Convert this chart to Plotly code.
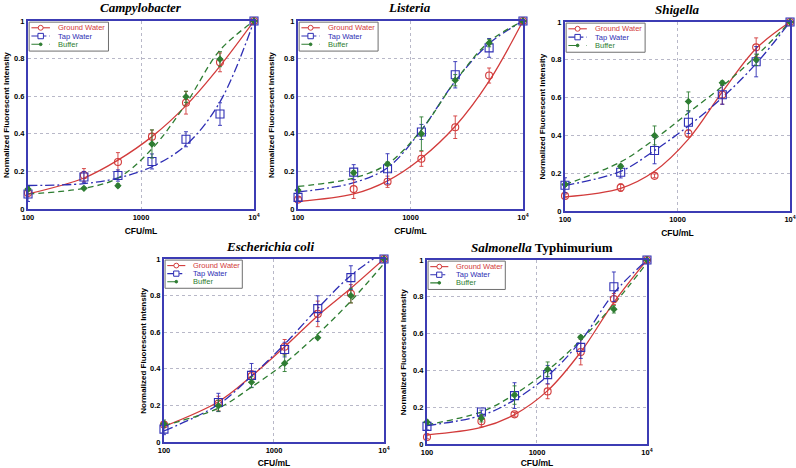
import plotly.graph_objects as go

# ---------------- data ----------------
cfu = [100, 312.5, 625, 1250, 2500, 5000, 10000]
x_tickvals = [100, 1000, 10000]
x_ticktext = ["100", "1000", "10<sup>4</sup>"]
y_tickvals = [0, 0.2, 0.4, 0.6, 0.8, 1]
y_ticktext = ["0", "0.2", "0.4", "0.6", "0.8", "1"]
series_names = ["Ground Water", "Tap Water", "Buffer"]
panel_titles = ["<i>Campylobacter</i>", "<i>Listeria</i>", "<i>Shigella</i>",
                "<i>Escherichia coli</i>", "<i>Salmonella</i> Typhimurium"]
y_title = "Normalized Fluorescent Intensity"
x_title = "CFU/mL"

# Campylobacter
campy_ground = [0.085, 0.18, 0.25, 0.385, 0.565, 0.78, 1.0]
campy_ground_err = [0.01, 0.035, 0.05, 0.035, 0.06, 0.05, 0]
campy_ground_fit = [0.08, 0.165, 0.26, 0.385, 0.55, 0.76, 1.0]
campy_tap = [0.08, 0.17, 0.178, 0.253, 0.371, 0.505, 1.0]
campy_tap_err = [0.04, 0.03, 0.03, 0.04, 0.04, 0.06, 0]
campy_tap_fit = [0.125, 0.135, 0.165, 0.225, 0.34, 0.57, 1.0]
campy_buffer = [0.106, 0.11, 0.124, 0.346, 0.597, 0.797, 1.0]
campy_buffer_err = [0.01, 0.005, 0.01, 0.075, 0.03, 0.04, 0]
campy_buffer_fit = [0.08, 0.11, 0.165, 0.32, 0.56, 0.845, 1.0]

# Listeria
list_ground = [0.05, 0.106, 0.145, 0.267, 0.435, 0.71, 1.0]
list_ground_err = [0.01, 0.05, 0.03, 0.04, 0.06, 0.04, 0]
list_ground_fit = [0.04, 0.08, 0.15, 0.27, 0.44, 0.68, 1.0]
list_tap = [0.062, 0.196, 0.214, 0.41, 0.714, 0.857, 1.0]
list_tap_err = [0.02, 0.04, 0.08, 0.04, 0.07, 0.05, 0]
list_tap_fit = [0.09, 0.14, 0.22, 0.42, 0.68, 0.88, 1.0]
list_buffer = [0.10, 0.193, 0.24, 0.40, 0.685, 0.883, 1.0]
list_buffer_err = [0.01, 0.01, 0.01, 0.09, 0.03, 0.02, 0]
list_buffer_fit = [0.12, 0.165, 0.24, 0.42, 0.68, 0.89, 1.0]

# Shigella
shig_ground = [0.08, 0.124, 0.186, 0.41, 0.615, 0.866, 1.0]
shig_ground_err = [0.01, 0.02, 0.01, 0.02, 0.05, 0.05, 0]
shig_ground_fit = [0.075, 0.12, 0.21, 0.38, 0.63, 0.86, 1.0]
shig_tap = [0.136, 0.205, 0.32, 0.47, 0.615, 0.79, 1.0]
shig_tap_err = [0.04, 0.03, 0.07, 0.06, 0.05, 0.08, 0]
shig_tap_fit = [0.135, 0.21, 0.32, 0.45, 0.60, 0.78, 1.0]
shig_buffer = [0.14, 0.237, 0.40, 0.58, 0.678, 0.80, 1.0]
shig_buffer_err = [0.01, 0.01, 0.05, 0.05, 0.01, 0.03, 0]
shig_buffer_fit = [0.14, 0.26, 0.38, 0.52, 0.66, 0.82, 1.0]

# Escherichia coli
ecoli_ground = [0.095, 0.21, 0.36, 0.52, 0.70, 0.81, 1.0]
ecoli_ground_err = [0.01, 0.04, 0.03, 0.04, 0.07, 0.05, 0]
ecoli_ground_fit = [0.085, 0.22, 0.36, 0.52, 0.69, 0.84, 1.0]
ecoli_tap = [0.07, 0.216, 0.364, 0.505, 0.729, 0.898, 1.0]
ecoli_tap_err = [0.03, 0.05, 0.065, 0.04, 0.07, 0.065, 0]
ecoli_tap_fit = [0.06, 0.205, 0.36, 0.535, 0.73, 0.91, 1.04]
ecoli_buffer = [0.10, 0.198, 0.327, 0.43, 0.57, 0.80, 1.0]
ecoli_buffer_err = [0.02, 0.03, 0.03, 0.045, 0.0, 0.04, 0]
ecoli_buffer_fit = [0.09, 0.185, 0.30, 0.43, 0.59, 0.77, 0.975]

# Salmonella Typhimurium
salm_ground = [0.038, 0.123, 0.161, 0.286, 0.50, 0.788, 1.0]
salm_ground_err = [0.01, 0.03, 0.01, 0.04, 0.07, 0.03, 0]
salm_ground_fit = [0.05, 0.09, 0.16, 0.29, 0.50, 0.77, 1.0]
salm_tap = [0.096, 0.174, 0.263, 0.377, 0.525, 0.855, 1.0]
salm_tap_err = [0.02, 0.01, 0.07, 0.05, 0.06, 0.08, 0]
salm_tap_fit = [0.10, 0.155, 0.24, 0.37, 0.56, 0.82, 1.0]
salm_buffer = [0.12, 0.14, 0.266, 0.406, 0.58, 0.732, 1.0]
salm_buffer_err = [0.01, 0.02, 0.05, 0.04, 0.01, 0.02, 0]
salm_buffer_fit = [0.105, 0.175, 0.27, 0.40, 0.565, 0.76, 0.985]

panels = [
    [(campy_ground, campy_ground_err, campy_ground_fit),
     (campy_tap, campy_tap_err, campy_tap_fit),
     (campy_buffer, campy_buffer_err, campy_buffer_fit)],
    [(list_ground, list_ground_err, list_ground_fit),
     (list_tap, list_tap_err, list_tap_fit),
     (list_buffer, list_buffer_err, list_buffer_fit)],
    [(shig_ground, shig_ground_err, shig_ground_fit),
     (shig_tap, shig_tap_err, shig_tap_fit),
     (shig_buffer, shig_buffer_err, shig_buffer_fit)],
    [(ecoli_ground, ecoli_ground_err, ecoli_ground_fit),
     (ecoli_tap, ecoli_tap_err, ecoli_tap_fit),
     (ecoli_buffer, ecoli_buffer_err, ecoli_buffer_fit)],
    [(salm_ground, salm_ground_err, salm_ground_fit),
     (salm_tap, salm_tap_err, salm_tap_fit),
     (salm_buffer, salm_buffer_err, salm_buffer_fit)],
]

# ---------------- styles ----------------
colors = ["#d23b3b", "#2e2eb4", "#2e7d32"]
dashes = ["solid", "9px,3px,2px,3px", "6px,4px"]
symbols = ["circle-open", "square-open", "diamond"]
msizes = [7, 8, 4.5]
frame_color = "#3c3cb4"
grid_color = "#b8b8c8"
sans = "Liberation Sans, Arial, sans-serif"
serif = "Liberation Serif, Times New Roman, serif"

domains = [
    ([0.0352, 0.3191], [0.5534, 0.9551]),
    ([0.3744, 0.6570], [0.5534, 0.9551]),
    ([0.7098, 0.9925], [0.5491, 0.9530]),
    ([0.2060, 0.4824], [0.0556, 0.4466]),
    ([0.5364, 0.8128], [0.0513, 0.4444]),
]
# horizontal paper position of each rotated y-axis title (its centre)
ytitle_x = [0.0075, 0.3405, 0.681, 0.180, 0.5065]
title_pos = [(0.177, 0.983), (0.515, 0.985), (0.851, 0.979), (0.339, 0.474), (0.681, 0.472)]

fig = go.Figure()
layout = dict(
    width=796, height=468, margin=dict(l=0, r=0, t=0, b=0),
    paper_bgcolor="white", plot_bgcolor="white", showlegend=False,
    font=dict(family=sans, color="black"),
)
shapes = []
annotations = []

for p, series in enumerate(panels):
    sfx = "" if p == 0 else str(p + 1)
    xa, ya = "x" + sfx, "y" + sfx
    for s, (vals, errs, fit) in enumerate(series):
        fig.add_trace(go.Scatter(
            x=cfu, y=fit, mode="lines", xaxis=xa, yaxis=ya,
            line=dict(color=colors[s], width=1.3, dash=dashes[s], shape="spline", smoothing=1.0),
            name=series_names[s], hoverinfo="skip"))
    for s, (vals, errs, fit) in enumerate(series):
        fig.add_trace(go.Scatter(
            x=cfu, y=vals, mode="markers", xaxis=xa, yaxis=ya, cliponaxis=False,
            marker=dict(symbol=symbols[s], size=msizes[s], color=colors[s],
                        line=dict(color=colors[s], width=1.1)),
            error_y=dict(type="data", array=errs, visible=True, color=colors[s],
                         thickness=0.9, width=2),
            name=series_names[s]))
    xd, yd = domains[p]
    layout["xaxis" + sfx] = dict(
        domain=xd, anchor=ya, type="log", range=[2, 4],
        tickvals=x_tickvals, ticktext=x_ticktext,
        tickfont=dict(size=7.5, family=sans, weight="bold"),
        showline=True, mirror=True, linecolor=frame_color, linewidth=2,
        showgrid=True, gridcolor=grid_color, griddash="dot", gridwidth=1,
        ticks="", zeroline=False, automargin=False,
        title=dict(text=x_title, font=dict(size=8.5, family=sans, weight="bold"), standoff=7),
    )
    layout["yaxis" + sfx] = dict(
        domain=yd, anchor=xa, range=[0, 1],
        tickvals=y_tickvals, ticktext=y_ticktext,
        tickfont=dict(size=7.5, family=sans, weight="bold"),
        showline=True, mirror=True, linecolor=frame_color, linewidth=2,
        showgrid=True, gridcolor=grid_color, griddash="dot", gridwidth=1,
        ticks="", zeroline=False, automargin=False,
    )
    # y-axis title as rotated text
    annotations.append(dict(
        text="<b>" + y_title + "</b>", x=ytitle_x[p], y=(yd[0] + yd[1]) / 2,
        xref="paper", yref="paper", xanchor="center", yanchor="middle",
        textangle=-90, showarrow=False, font=dict(family=sans, size=8, color="black")))
    tx, ty = title_pos[p]
    annotations.append(dict(
        text="<b>" + panel_titles[p] + "</b>", x=tx, y=ty, xref="paper", yref="paper",
        xanchor="center", yanchor="middle", showarrow=False,
        font=dict(family=serif, size=13, color="black")))

    # legend box drawn inside the panel
    xr, yr = xa + " domain", ya + " domain"
    shapes.append(dict(type="rect", xref=xr, yref=yr, x0=0.005, x1=0.356, y0=0.84, y1=0.994,
                       fillcolor="white", line=dict(color="#6e6e6e", width=1), layer="above"))
    row_y = [0.964, 0.920, 0.876]
    for s in range(3):
        shapes.append(dict(type="line", xref=xr, yref=yr, x0=0.015, x1=0.097, y0=row_y[s], y1=row_y[s],
                           line=dict(color=colors[s], width=1.1, dash=["solid", "dashdot", "dash"][s]),
                           layer="above"))
    for s in range(3):
        annotations.append(dict(
            text=series_names[s], x=0.125, y=row_y[s], xref=xr, yref=yr,
            xanchor="left", yanchor="middle", showarrow=False,
            font=dict(family=sans, size=7.5, color=colors[s])))
    # legend symbols as small shapes
    sx, sy = 0.011, 0.013
    mx = 0.056
    shapes.append(dict(type="circle", xref=xr, yref=yr, x0=mx - sx, x1=mx + sx,
                       y0=row_y[0] - sy, y1=row_y[0] + sy,
                       line=dict(color=colors[0], width=1), fillcolor="white", layer="above"))
    shapes.append(dict(type="rect", xref=xr, yref=yr, x0=mx - sx * 1.1, x1=mx + sx * 1.1,
                       y0=row_y[1] - sy * 1.1, y1=row_y[1] + sy * 1.1,
                       line=dict(color=colors[1], width=1), fillcolor="white", layer="above"))
    shapes.append(dict(type="circle", xref=xr, yref=yr, x0=mx - sx * 0.55, x1=mx + sx * 0.55,
                       y0=row_y[2] - sy * 0.55, y1=row_y[2] + sy * 0.55,
                       line=dict(color=colors[2], width=1), fillcolor=colors[2], layer="above"))

layout["shapes"] = shapes
layout["annotations"] = annotations
fig.update_layout(**layout)
fig.write_html("out.html", post_script="document.body.style.margin='0';",
               config={"displayModeBar": False})
